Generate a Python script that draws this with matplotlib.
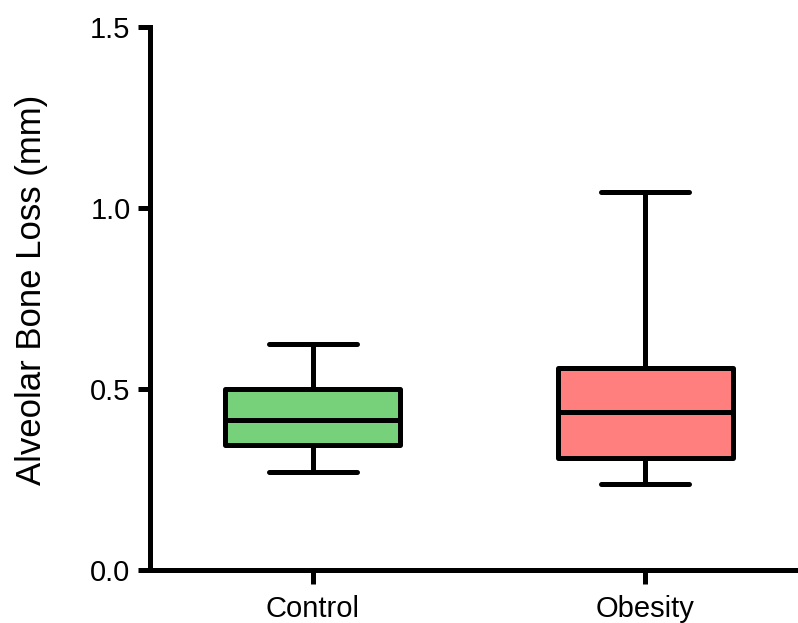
import numpy as np
import matplotlib.pyplot as plt

plt.rcParams['font.family'] = ['Liberation Sans', 'DejaVu Sans']

# box summaries
groups = ['Control', 'Obesity']
whisker_low = [0.271, 0.237]
q1 = [0.345, 0.308]
median = [0.414, 0.437]
q3 = [0.499, 0.557]
whisker_high = [0.625, 1.045]
colors = ['#77D17A', '#FF7F7F']

stats = []
for i, g in enumerate(groups):
    stats.append(dict(label=g, whislo=whisker_low[i], q1=q1[i], med=median[i],
                      q3=q3[i], whishi=whisker_high[i], fliers=[]))

fig = plt.figure(figsize=(7.98, 6.23), dpi=100)
ax = fig.add_axes([0.188, 0.085, 0.812, 0.872])

lw = 3.6
bp = ax.bxp(stats, positions=[0, 1], widths=0.527, patch_artist=True,
            showfliers=False,
            boxprops=dict(linewidth=lw, edgecolor='black'),
            medianprops=dict(linewidth=lw, color='black', solid_capstyle='butt'),
            whiskerprops=dict(linewidth=lw, color='black'),
            capprops=dict(linewidth=lw, color='black', solid_capstyle='round'),
            capwidths=0.265)
for patch, c in zip(bp['boxes'], colors):
    patch.set_facecolor(c)
    patch.set_joinstyle('round')

ax.set_xlim(-0.49, 1.46)
ax.set_ylim(0, 1.5)
ax.set_yticks([0.0, 0.5, 1.0, 1.5])
ax.set_yticklabels(['0.0', '0.5', '1.0', '1.5'])
ax.set_xticks([0, 1])
ax.set_xticklabels(groups)

ax.spines['top'].set_visible(False)
ax.spines['right'].set_visible(False)
ax.spines['left'].set_linewidth(lw)
ax.spines['bottom'].set_linewidth(lw)
ax.spines['left'].set_capstyle('projecting')
ax.tick_params(axis='both', width=lw, labelsize=21)
ax.tick_params(axis='y', length=9, pad=5)
ax.tick_params(axis='x', length=10, pad=8)

ax.set_ylabel('Alveolar Bone Loss (mm)', fontsize=25)
ax.yaxis.set_label_coords(-0.158, 0.516)

fig.savefig('out.png', dpi=100)
